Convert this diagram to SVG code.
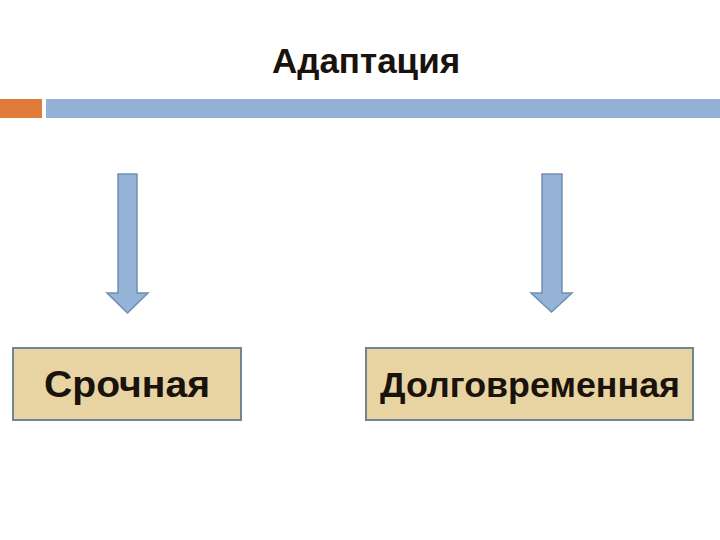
<svg xmlns="http://www.w3.org/2000/svg" width="720" height="540" viewBox="0 0 720 540">
<style>
.t{font-family:"Liberation Sans",Arial,sans-serif;font-weight:bold;fill:#1a120c;text-anchor:middle}
.box{fill:#E8D4A2;stroke:#6F8590;stroke-width:2}
.arr{fill:#95B3D7;stroke:#6D8FB5;stroke-width:1.5}
</style>
<rect width="720" height="540" fill="#fff"/>
<g id="header">
<rect x="0" y="99" width="42" height="19" fill="#E07B39"/>
<rect x="46" y="99" width="674" height="19" fill="#92B1D4"/>
</g>
<g id="title"><text class="t" x="366" y="73" font-size="35">Адаптация</text></g>
<g id="connectors">
<path class="arr" d="M118,174 H137 V293 H148 L127.5,313 L107,293 H118 Z"/>
<path class="arr" d="M542,174 H562 V293 H572 L551.5,312 L531,293 H542 Z"/>
</g>
<g id="node-srochnaya">
<rect class="box" x="13" y="348" width="228" height="72"/>
<text class="t" x="127" y="397" font-size="36" textLength="166" lengthAdjust="spacingAndGlyphs">Срочная</text>
</g>
<g id="node-dolgovremennaya">
<rect class="box" x="366" y="348" width="327" height="72"/>
<text class="t" x="530" y="397" font-size="35" textLength="300" lengthAdjust="spacingAndGlyphs">Долговременная</text>
</g>
</svg>
